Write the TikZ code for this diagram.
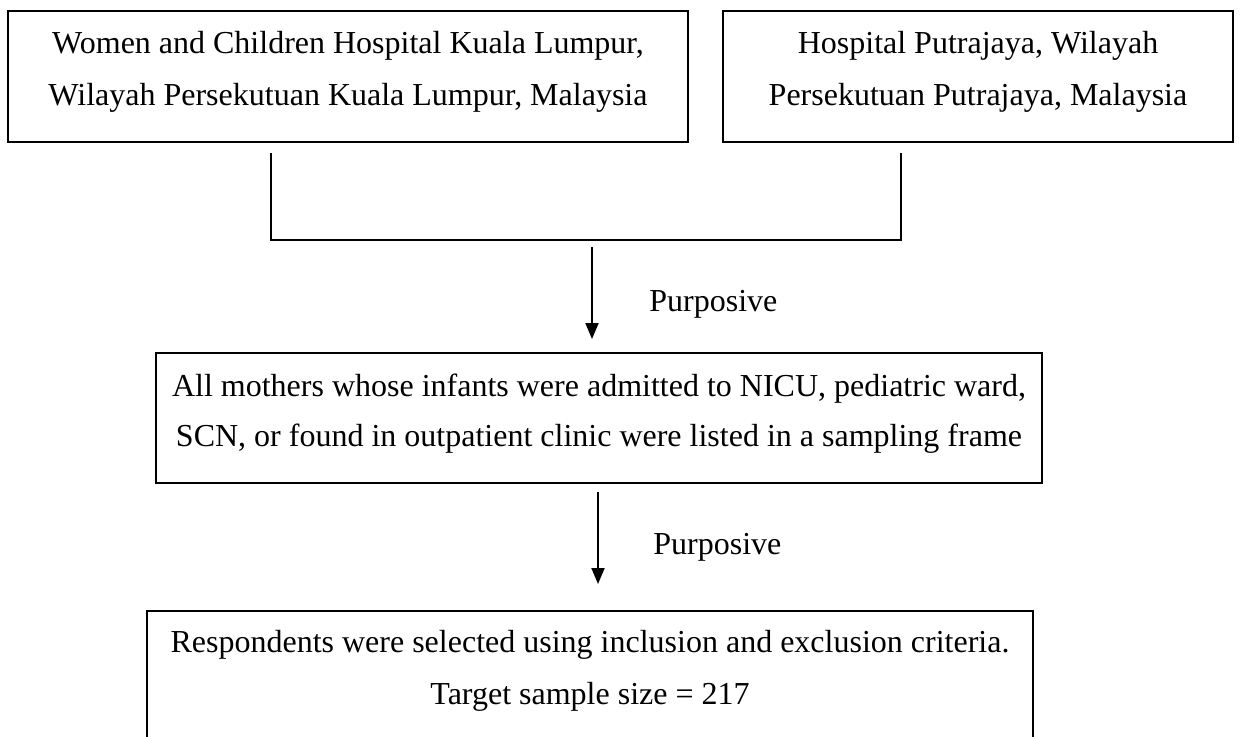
\documentclass[tikz,border=0pt]{standalone}
\usepackage{fontspec}
\setmainfont{Liberation Serif}
\usetikzlibrary{arrows.meta}
\begin{document}
\begin{tikzpicture}[x=0.5pt,y=-0.5pt,
  boxnode/.style={draw=black, line width=1.3pt, inner sep=0pt},
  txt/.style={align=center, inner sep=0pt, font=\fontsize{16}{26}\selectfont},
  txtb/.style={align=center, inner sep=0pt, font=\fontsize{16}{25}\selectfont},
  lbl/.style={inner sep=0pt, font=\fontsize{16}{19}\selectfont, anchor=base west},
  conn/.style={draw=black, line width=1pt},
  arr/.style={draw=black, line width=1pt, -{Triangle[width=6.5pt,length=8pt]}}]
\useasboundingbox (0,0) rectangle (1240,736);
\clip (0,0) rectangle (1240,736);
\fill[white] (0,0) rectangle (1240,736);

% boxes
\node[boxnode, minimum width=340pt, minimum height=65.5pt] (b1) at (348,76.5) {};
\node[boxnode, minimum width=255pt, minimum height=65.5pt] (b2) at (978,76.5) {};
\node[boxnode, minimum width=443pt, minimum height=65pt] (b3) at (599,418) {};
\node[boxnode, minimum width=443pt, minimum height=75pt] (b4) at (590,686) {};

% texts
\node[txt] (t1) at (348,72) {Women and Children Hospital Kuala Lumpur,\\Wilayah Persekutuan Kuala Lumpur, Malaysia};
\node[txt] (t2) at (978,72) {Hospital Putrajaya, Wilayah\\Persekutuan Putrajaya, Malaysia};
\node[txtb] (t3) at (599,413.5) {All mothers whose infants were admitted to NICU, pediatric ward,\\SCN, or found in outpatient clinic were listed in a sampling frame};
\node[txt] (t4) at (590,671) {Respondents were selected using inclusion and exclusion criteria.\\Target sample size = 217};

% connector joining the two hospitals
\coordinate (l1) at (271,153);
\coordinate (l2) at (271,240);
\coordinate (r2) at (901,240);
\coordinate (r1) at (901,153);
\draw[conn] (l1) -- (l2) -- (r2) -- (r1);

% arrows
\coordinate (a1s) at (592,247);
\coordinate (a1e) at (592,339);
\draw[arr] (a1s) -- (a1e);
\node[lbl] (p1) at (649,311) {Purposive};

\coordinate (a2s) at (598,492);
\coordinate (a2e) at (598,584);
\draw[arr] (a2s) -- (a2e);
\node[lbl] (p2) at (653,554) {Purposive};
\end{tikzpicture}
\end{document}
